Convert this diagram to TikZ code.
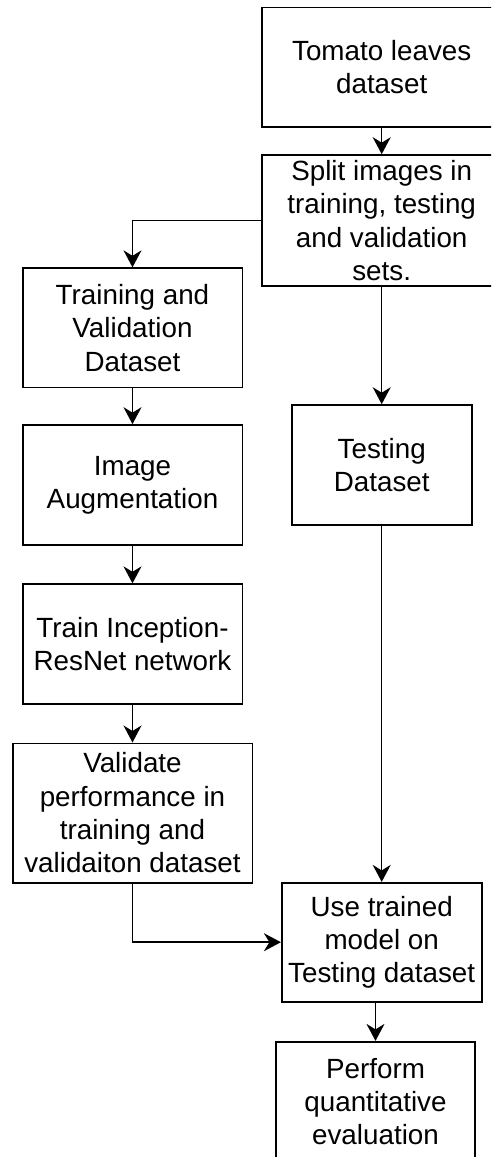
\documentclass[tikz,border=0pt]{standalone}
\usepackage{fontspec}
\setmainfont{Liberation Sans}
\usetikzlibrary{arrows.meta}
\begin{document}
\begin{tikzpicture}[x=1pt,y=-1pt,
  box/.style={draw=black, line width=1.6pt, rectangle, inner sep=0pt, align=center,
    font=\fontsize{27.8}{33.3}\selectfont},
  conn/.style={line width=1.5pt, -{Stealth[length=17pt,width=18pt,inset=5.5pt]}}]
\useasboundingbox (0,0) rectangle (491,1157);
\fill[white] (0,0) rectangle (491,1157);
\clip (0,0) rectangle (491,1157);
\node[box, minimum width=239.6pt, minimum height=119.7pt] (b1) at (381.7,67.2) {Tomato leaves\\dataset};
\node[box, minimum width=239.6pt, minimum height=131pt] (b2) at (381.7,220.5) {Split images in\\training, testing\\and validation\\sets.};
\node[box, minimum width=219.6pt, minimum height=119.3pt] (b3) at (132.5,327.8) {Training and\\Validation\\Dataset};
\node[box, minimum width=219.6pt, minimum height=120pt] (b4) at (132.5,485) {Image\\Augmentation};
\node[box, minimum width=219.6pt, minimum height=119.7pt] (b5) at (132.5,644) {Train Inception-\\ResNet network};
\node[box, minimum width=239.6pt, minimum height=139.4pt] (b6) at (132.5,813) {Validate\\performance in\\training and\\validaiton dataset};
\node[box, minimum width=180pt, minimum height=120pt] (bt) at (381.7,465) {Testing\\Dataset};
\node[box, minimum width=200pt, minimum height=119pt] (b7) at (381.7,942.2) {Use trained\\model on\\Testing dataset};
\node[box, minimum width=199pt, minimum height=120pt] (b8) at (375.5,1101.7) {Perform\\quantitative\\evaluation};
\draw[conn] (b1.south) -- (b2.north);
\draw[conn] (b2.west) -| (b3.north);
\draw[conn] (b2.south) -- (bt.north);
\draw[conn] (b3.south) -- (b4.north);
\draw[conn] (b4.south) -- (b5.north);
\draw[conn] (b5.south) -- (b6.north);
\draw[conn] (b6.south) |- (b7.west);
\draw[conn] (bt.south) -- (b7.north);
\draw[conn] (b7.south -| b8.north) -- (b8.north);
\end{tikzpicture}
\end{document}
